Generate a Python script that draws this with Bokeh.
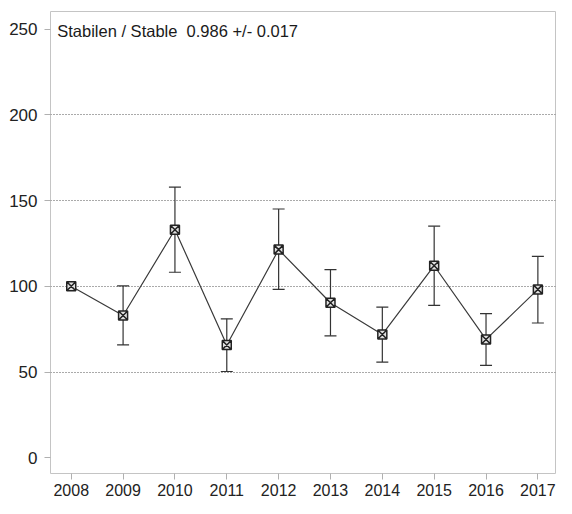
from bokeh.plotting import figure
from bokeh.models import ColumnDataSource, Whisker, FixedTicker, Label, Range1d, TeeHead
from bokeh.embed import file_html
from bokeh.resources import INLINE

years = [2008, 2009, 2010, 2011, 2012, 2013, 2014, 2015, 2016, 2017]
index = [100.0, 83.0, 133.0, 65.8, 121.4, 90.4, 71.9, 112.0, 69.0, 98.2]
upper = [100.0, 100.2, 157.9, 81.0, 145.1, 109.7, 87.9, 135.1, 84.1, 117.5]
lower = [100.0, 65.8, 108.2, 50.3, 98.2, 71.1, 55.8, 88.9, 53.9, 78.6]
y_ticks = [0, 50, 100, 150, 200, 250]
grid_ticks = [50, 100, 150, 200]
annotation = "Stabilen / Stable\u00a0\u00a00.986 +/- 0.017"

FONT = "Liberation Sans"

p = figure(width=556, height=498, output_backend="svg", toolbar_location=None,
           x_range=Range1d(2007.6, 2017.34), y_range=Range1d(-9.2, 260.3),
           min_border_left=50, min_border_right=1, min_border_top=11, min_border_bottom=0)
p.background_fill_color = "white"
p.border_fill_color = "white"
p.outline_line_color = "#c4c4c4"
p.outline_line_width = 1

src = ColumnDataSource(dict(x=years, y=index))
eb_src = ColumnDataSource(dict(x=years[1:], up=upper[1:], lo=lower[1:]))

p.xgrid.visible = False
p.ygrid.ticker = FixedTicker(ticks=grid_ticks)
p.ygrid.grid_line_color = "#555555"
p.ygrid.grid_line_dash = "1 2"
p.ygrid.grid_line_width = 1

w = Whisker(base="x", upper="up", lower="lo", source=eb_src,
            line_color="#333333", line_width=1.2,
            upper_head=TeeHead(size=12, line_color="#333333", line_width=1.2),
            lower_head=TeeHead(size=12, line_color="#333333", line_width=1.2))
p.add_layout(w)

p.line("x", "y", source=src, line_color="#3a3a3a", line_width=1.2)
p.scatter("x", "y", source=src, marker="square_x", size=9, fill_color="#e0e0e0",
          line_color="#222222", line_width=1.5)

for ax in (p.xaxis[0], p.yaxis[0]):
    ax.axis_line_color = None
    ax.major_tick_line_color = "#b0b0b0"
    ax.minor_tick_line_color = None
    ax.major_tick_in = 0
    ax.major_tick_out = 6
    ax.major_label_text_font = FONT
    ax.major_label_text_color = "#222222"

p.xaxis.ticker = FixedTicker(ticks=years)
p.xaxis.major_label_text_font_size = "16px"
p.xaxis.major_label_standoff = 4
p.yaxis.ticker = FixedTicker(ticks=y_ticks)
p.yaxis.major_label_text_font_size = "17px"
p.yaxis.major_label_standoff = 7

lab = Label(x=2007.73, y=249, text=annotation, text_font=FONT, text_font_size="16.5px",
            text_color="#1a1a1a", text_baseline="middle", text_align="left")
p.add_layout(lab)

open("out.html", "w").write(file_html(p, INLINE))
